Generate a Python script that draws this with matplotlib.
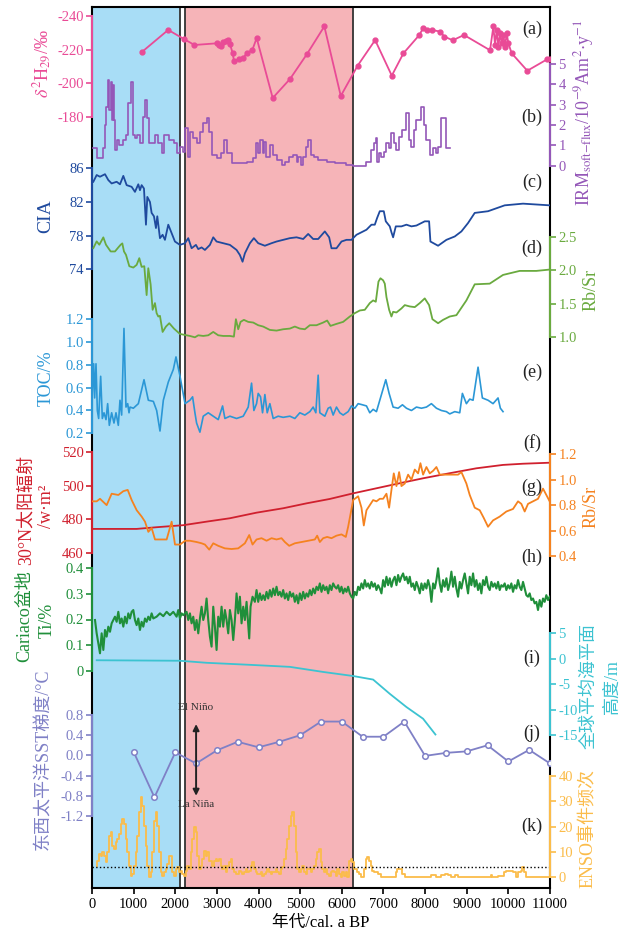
import matplotlib
matplotlib.use("Agg")
from matplotlib import pyplot as plt
from matplotlib.patches import Rectangle

plt.rcParams['font.family'] = ['Liberation Serif', 'Noto Sans CJK SC']
plt.rcParams['mathtext.fontset'] = 'stix'
plt.rcParams['axes.unicode_minus'] = False

# (a) leaf wax dD
dh_age = [1200, 1830, 2210, 2460, 3000, 3050, 3100, 3155, 3210, 3275, 3315, 3380, 3410, 3520, 3635,
          3730, 3850, 3955, 4340, 4755, 5170, 5580, 5975, 6380, 6800, 7200, 7480, 7855, 7960, 8055,
          8165, 8360, 8465, 8665, 8935, 9560, 9640, 9680, 9720, 9760, 9800, 9840, 9880, 9920, 9960,
          10000, 10080, 10455, 10935, 11000]
dh_val = [-218.6, -231.6, -226.2, -222.7, -223.7, -222.5, -222.1, -224.5, -225.1, -225.6, -223.1,
          -217.8, -213.3, -214.3, -215.2, -218.2, -219.7, -226.8, -191.4, -202.6, -217.6, -233.7,
          -192.6, -210.5, -225.6, -204.6, -217.8, -228.4, -232.9, -231.6, -231.6, -230.6, -227.6,
          -225.5, -228.6, -219.6, -233.7, -222.7, -231.6, -221.7, -229.6, -223.7, -228.6, -221.7,
          -229.6, -223.7, -217.8, -207.5, -214.3, -214.4]

# (b) IRM soft flux (step series)
irm_age = [32, 128, 256, 304, 336, 376, 416, 448, 472, 496, 528, 552, 608, 656, 736, 816, 872, 928,
           992, 1040, 1088, 1152, 1232, 1272, 1328, 1376, 1512, 1592, 1672, 1728, 1856, 1968, 2048,
           2112, 2176, 2232, 2296, 2352, 2432, 2528, 2592, 2672, 2752, 2816, 2872, 2992, 3088, 3168,
           3248, 3352, 3712, 3872, 3936, 3992, 4032, 4096, 4128, 4176, 4272, 4336, 4432, 4552, 4632,
           4736, 4832, 4912, 4952, 5008, 5072, 5136, 5192, 5248, 5328, 5432, 5648, 5832, 6112, 6272,
           6592, 6712, 6768, 6816, 6848, 6896, 6952, 7008, 7072, 7136, 7192, 7248, 7312, 7376, 7456,
           7536, 7616, 7672, 7728, 7792, 7912, 7968, 8016, 8112, 8192, 8272, 8312, 8392, 8512, 8608]
irm_val = [0.86, 0.36, 0.86, 2.0, 2.9, 4.21, 2.74, 4.13, 2.25, 3.97, 2.25, 0.77, 1.26, 1.02, 1.26,
           1.5, 3.07, 4.13, 1.5, 1.34, 1.5, 1.1, 2.41, 3.23, 2.33, 1.1, 1.5, 1.1, 0.61, 1.5, 1.26,
           1.1, 0.61, 0.94, 0.69, 1.84, 0.45, 1.68, 1.34, 1.1, 1.68, 2.08, 2.33, 1.68, 0.53, 0.36,
           0.61, 1.26, 0.61, 0.12, 0.2, 0.36, 1.1, 0.61, 1.26, 0.61, 1.18, 0.45, 1.02, 0.53, 0.28,
           0.04, 0.2, 0.45, 0.53, 0.2, 0.45, 0.04, 0.45, 0.94, 1.26, 0.53, 0.45, 0.28, 0.2, 0.12,
           0.04, 0.0, 0.2, 0.77, 1.1, 1.34, 0.2, 0.61, 0.45, 0.69, 1.1, 0.86, 1.59, 1.1, 0.77, 1.42,
           1.75, 2.57, 1.26, 0.94, 1.75, 2.25, 2.9, 2.0, 1.26, 0.53, 0.86, 0.61, 0.94, 2.33, 0.86,
           0.86]

# (c) CIA
cia_age = [32, 112, 192, 312, 392, 472, 592, 672, 752, 832, 952, 1032, 1112, 1152, 1192, 1248, 1296,
           1328, 1392, 1432, 1488, 1536, 1568, 1632, 1696, 1752, 1832, 1912, 1992, 2112, 2232, 2312,
           2392, 2496, 2552, 2632, 2712, 2832, 2912, 2992, 3152, 3312, 3472, 3552, 3616, 3672, 3792,
           3888, 3992, 4152, 4312, 4432, 4592, 4752, 4912, 5072, 5192, 5312, 5432, 5592, 5696, 5752,
           5872, 5992, 6112, 6232, 6352, 6472, 6592, 6712, 6792, 6848, 6912, 7008, 7056, 7152, 7192,
           7232, 7296, 7432, 7552, 7672, 7792, 7912, 7992, 8096, 8128, 8312, 8512, 8712, 8872, 9032,
           9192, 9512, 9912, 10352, 10672, 10992]
cia_val = [84.4, 85.2, 85.0, 85.3, 84.6, 84.2, 84.4, 84.1, 85.1, 84.0, 83.8, 83.2, 84.1, 83.4, 84.0,
           83.6, 79.3, 82.6, 82.0, 80.7, 80.3, 78.9, 80.3, 77.7, 78.1, 77.5, 79.3, 78.3, 77.3, 76.9,
           77.1, 77.7, 76.5, 76.9, 76.4, 76.6, 76.3, 76.9, 77.8, 77.3, 77.1, 76.9, 76.3, 75.7, 74.9,
           75.9, 77.1, 77.7, 77.1, 76.8, 77.1, 77.3, 77.5, 77.7, 77.8, 77.6, 78.2, 77.6, 77.6, 78.5,
           77.8, 76.5, 76.5, 77.3, 77.5, 77.5, 78.1, 78.4, 78.7, 79.3, 79.3, 80.1, 80.9, 80.9, 79.7,
           79.1, 78.4, 77.8, 79.1, 79.1, 79.3, 79.1, 79.2, 79.5, 79.7, 79.7, 77.3, 76.8, 77.5, 77.9,
           78.5, 79.5, 80.7, 80.9, 81.6, 81.8, 81.7, 81.6]

# (d) Rb/Sr
rb_age = [32, 112, 176, 272, 336, 448, 552, 632, 688, 728, 768, 816, 896, 992, 1072, 1136, 1192, 1256,
          1312, 1352, 1408, 1456, 1512, 1552, 1592, 1632, 1696, 1776, 1856, 1968, 2112, 2272, 2352,
          2472, 2552, 2672, 2792, 2912, 3032, 3152, 3312, 3408, 3456, 3512, 3568, 3648, 3752, 3872,
          3992, 4112, 4272, 4432, 4592, 4752, 4872, 4992, 5112, 5232, 5392, 5552, 5648, 5728, 5872,
          6032, 6192, 6312, 6432, 6552, 6672, 6752, 6816, 6880, 6928, 6992, 7032, 7072, 7136, 7192,
          7232, 7312, 7432, 7512, 7632, 7752, 7872, 7992, 8096, 8176, 8312, 8432, 8592, 8752, 8992,
          9192, 9552, 9872, 10272, 10672, 10992]
rb_val = [2.33, 2.43, 2.38, 2.49, 2.38, 2.28, 2.28, 2.34, 2.38, 2.40, 2.28, 2.23, 2.06, 2.04, 2.08,
          2.18, 2.05, 2.06, 1.63, 2.03, 1.79, 1.41, 1.51, 1.36, 1.31, 1.32, 1.08, 1.16, 1.21, 1.13,
          1.05, 1.03, 1.02, 1.00, 1.03, 1.02, 1.03, 1.08, 1.03, 1.02, 1.02, 1.01, 1.27, 1.12, 1.23,
          1.26, 1.23, 1.22, 1.18, 1.16, 1.11, 1.10, 1.12, 1.13, 1.16, 1.13, 1.12, 1.18, 1.18, 1.22,
          1.25, 1.17, 1.20, 1.23, 1.31, 1.36, 1.40, 1.41, 1.51, 1.55, 1.53, 1.83, 1.88, 1.85, 1.80,
          1.60, 1.41, 1.31, 1.38, 1.37, 1.43, 1.48, 1.46, 1.45, 1.51, 1.58, 1.48, 1.27, 1.21, 1.26,
          1.31, 1.33, 1.55, 1.79, 1.80, 1.93, 1.99, 1.99, 2.01]

# (e) TOC
toc_age = [0, 40, 64, 96, 128, 160, 208, 248, 288, 336, 376, 416, 472, 528, 576, 632, 672, 712, 768,
           816, 857, 889, 913, 993, 1113, 1249, 1353, 1473, 1553, 1633, 1713, 1833, 1953, 2017, 2114,
           2234, 2352, 2416, 2472, 2512, 2592, 2672, 2792, 2912, 3032, 3136, 3192, 3312, 3472, 3632,
           3752, 3832, 3888, 3952, 3992, 4048, 4096, 4152, 4208, 4272, 4352, 4472, 4592, 4752, 4872,
           4992, 5112, 5232, 5312, 5376, 5432, 5472, 5592, 5672, 5728, 5792, 5872, 5952, 6032, 6152,
           6232, 6312, 6392, 6496, 6592, 6672, 6752, 6832, 6912, 7056, 7136, 7232, 7352, 7456, 7552,
           7672, 7792, 7912, 8032, 8152, 8272, 8392, 8512, 8592, 8712, 8832, 8896, 8992, 9072, 9152,
           9272, 9376, 9512, 9632, 9752, 9808, 9872]
toc_val = [0.49, 0.81, 0.51, 0.81, 0.40, 0.33, 0.70, 0.33, 0.38, 0.32, 0.46, 0.27, 0.38, 0.29, 0.38,
           0.27, 0.49, 0.36, 1.12, 0.43, 0.46, 0.38, 0.43, 0.42, 0.46, 0.67, 0.49, 0.48, 0.40, 0.22,
           0.49, 0.65, 0.76, 0.87, 0.70, 0.46, 0.49, 0.52, 0.38, 0.29, 0.21, 0.35, 0.38, 0.35, 0.32,
           0.44, 0.33, 0.35, 0.33, 0.35, 0.43, 0.64, 0.40, 0.46, 0.55, 0.52, 0.38, 0.54, 0.38, 0.46,
           0.33, 0.35, 0.34, 0.35, 0.33, 0.38, 0.36, 0.39, 0.43, 0.38, 0.71, 0.38, 0.35, 0.42, 0.43,
           0.36, 0.43, 0.38, 0.36, 0.39, 0.44, 0.42, 0.46, 0.45, 0.44, 0.38, 0.41, 0.39, 0.49, 0.67,
           0.55, 0.43, 0.42, 0.45, 0.42, 0.40, 0.43, 0.42, 0.43, 0.46, 0.42, 0.40, 0.39, 0.37, 0.39,
           0.38, 0.55, 0.46, 0.50, 0.49, 0.78, 0.51, 0.49, 0.46, 0.51, 0.42, 0.39]

# (f) 30N insolation
ins_age = [0, 1072, 1552, 2192, 2752, 3312, 3952, 4592, 5152, 5712, 6272, 6832, 7392, 7952, 8592,
           9232, 9872, 10352, 11000]
ins_val = [474.4, 474.4, 475.4, 476.6, 478.7, 480.7, 484.0, 486.6, 489.5, 492.1, 495.4, 498.4, 501.4,
           504.3, 507.3, 510.2, 512.2, 512.9, 513.5]

# (g) Rb/Sr (second record)
rb2_age = [0, 112, 192, 352, 472, 633, 753, 857, 953, 1073, 1193, 1273, 1353, 1433, 1513, 1633, 1793,
           1913, 1993, 2114, 2234, 2352, 2512, 2632, 2712, 2816, 2912, 3032, 3192, 3352, 3512, 3672,
           3776, 3856, 3952, 4072, 4192, 4312, 4432, 4552, 4632, 4736, 4872, 5032, 5192, 5352, 5408,
           5472, 5552, 5648, 5752, 5872, 5992, 6096, 6152, 6272, 6392, 6472, 6528, 6592, 6672, 6752,
           6832, 6912, 6992, 7072, 7136, 7192, 7248, 7312, 7376, 7432, 7512, 7592, 7672, 7752, 7832,
           7888, 7952, 8032, 8112, 8192, 8272, 8352, 8448, 8552, 8672, 8792, 8872, 8992, 9072, 9192,
           9312, 9408, 9512, 9632, 9792, 9952, 10112, 10232, 10312, 10392, 10472, 10592, 10712, 10832,
           10912, 10992]
rb2_val = [0.83, 0.83, 0.85, 0.80, 0.89, 0.88, 0.91, 0.92, 0.84, 0.76, 0.71, 0.67, 0.59, 0.62, 0.53,
           0.53, 0.53, 0.67, 0.49, 0.49, 0.52, 0.52, 0.51, 0.50, 0.49, 0.45, 0.50, 0.48, 0.46, 0.455,
           0.46, 0.50, 0.565, 0.49, 0.53, 0.54, 0.52, 0.54, 0.53, 0.54, 0.51, 0.48, 0.50, 0.51, 0.52,
           0.53, 0.56, 0.51, 0.54, 0.55, 0.54, 0.56, 0.57, 0.55, 0.63, 0.84, 0.87, 0.78, 0.64, 0.76,
           0.80, 0.84, 0.83, 0.85, 0.85, 0.89, 0.78, 0.92, 1.05, 0.95, 1.06, 0.95, 0.97, 1.04, 1.00,
           1.08, 1.05, 1.13, 1.04, 1.10, 1.05, 1.07, 1.10, 1.04, 1.04, 1.04, 1.04, 1.04, 1.06, 0.97,
           0.88, 0.78, 0.76, 0.70, 0.63, 0.68, 0.71, 0.75, 0.77, 0.83, 0.81, 0.75, 0.81, 0.83, 0.85,
           0.93, 0.88, 0.83]

# (h) Cariaco Ti
ti_age = [72, 112, 152, 192, 232, 272, 312, 352, 392, 432, 472, 512, 552, 592, 632, 672, 712, 752, 792,
          832, 872, 912, 952, 992, 1032, 1072, 1112, 1152, 1192, 1232, 1272, 1312, 1352, 1392, 1432,
          1472, 1552, 1632, 1712, 1792, 1872, 1952, 2032, 2072, 2112, 2152, 2192, 2272, 2312, 2352,
          2392, 2432, 2472, 2512, 2552, 2592, 2632, 2672, 2712, 2752, 2792, 2832, 2872, 2912, 2952,
          2992, 3032, 3072, 3112, 3152, 3192, 3232, 3272, 3312, 3352, 3392, 3432, 3472, 3512, 3552,
          3592, 3632, 3672, 3712, 3776, 3808, 3856, 3912, 3952, 3992, 4032, 4072, 4112, 4152, 4192,
          4232, 4272, 4312, 4352, 4392, 4432, 4472, 4512, 4552, 4592, 4632, 4672, 4712, 4752, 4792,
          4832, 4872, 4912, 4952, 4992, 5032, 5072, 5112, 5152, 5192, 5232, 5272, 5312, 5352, 5392,
          5432, 5472, 5512, 5552, 5592, 5632, 5672, 5712, 5752, 5792, 5832, 5872, 5912, 5952, 5992,
          6032, 6072, 6112, 6152, 6192, 6232, 6272, 6312, 6352, 6392, 6432, 6472, 6512, 6552, 6592,
          6632, 6672, 6712, 6752, 6792, 6832, 6872, 6912, 6952, 6992, 7032, 7072, 7112, 7152, 7192,
          7232, 7272, 7312, 7352, 7392, 7432, 7472, 7512, 7552, 7592, 7632, 7672, 7712, 7752, 7792,
          7832, 7872, 7912, 7952, 7992, 8032, 8072, 8112, 8152, 8192, 8232, 8272, 8312, 8352, 8392,
          8432, 8472, 8512, 8552, 8592, 8632, 8672, 8712, 8752, 8792, 8832, 8872, 8912, 8952, 8992,
          9032, 9072, 9112, 9152, 9192, 9232, 9272, 9312, 9352, 9392, 9432, 9472, 9512, 9552, 9592,
          9632, 9672, 9712, 9752, 9792, 9832, 9872, 9912, 9952, 9992, 10032, 10072, 10112, 10152,
          10192, 10232, 10272, 10312, 10352, 10392, 10432, 10472, 10512, 10552, 10592, 10632, 10672,
          10712, 10752, 10792, 10832, 10872, 10912, 10952, 10992]
ti_val = [0.198, 0.146, 0.107, 0.068, 0.146, 0.081, 0.159, 0.133, 0.172, 0.152, 0.185, 0.198, 0.211,
          0.191, 0.230, 0.185, 0.204, 0.172, 0.211, 0.185, 0.224, 0.204, 0.230, 0.237, 0.198, 0.178,
          0.204, 0.159, 0.191, 0.172, 0.204, 0.191, 0.211, 0.198, 0.224, 0.204, 0.211, 0.224, 0.213,
          0.230, 0.217, 0.230, 0.211, 0.237, 0.204, 0.224, 0.217, 0.230, 0.198, 0.224, 0.185, 0.211,
          0.159, 0.198, 0.146, 0.204, 0.250, 0.198, 0.224, 0.282, 0.198, 0.133, 0.094, 0.250, 0.172,
          0.081, 0.211, 0.172, 0.250, 0.172, 0.237, 0.198, 0.146, 0.237, 0.198, 0.120, 0.198, 0.302,
          0.224, 0.289, 0.185, 0.250, 0.198, 0.269, 0.126, 0.250, 0.289, 0.269, 0.315, 0.269, 0.302,
          0.276, 0.295, 0.276, 0.308, 0.282, 0.315, 0.289, 0.321, 0.295, 0.328, 0.295, 0.308, 0.289,
          0.315, 0.282, 0.302, 0.276, 0.308, 0.289, 0.302, 0.269, 0.295, 0.263, 0.302, 0.276, 0.308,
          0.282, 0.302, 0.289, 0.315, 0.295, 0.321, 0.302, 0.328, 0.315, 0.341, 0.308, 0.334, 0.315,
          0.328, 0.302, 0.334, 0.315, 0.341, 0.328, 0.321, 0.334, 0.308, 0.328, 0.302, 0.321, 0.308,
          0.328, 0.302, 0.289, 0.282, 0.308, 0.295, 0.328, 0.315, 0.341, 0.321, 0.354, 0.328, 0.341,
          0.321, 0.347, 0.328, 0.341, 0.315, 0.334, 0.321, 0.302, 0.354, 0.328, 0.367, 0.334, 0.361,
          0.328, 0.354, 0.367, 0.334, 0.374, 0.347, 0.367, 0.380, 0.354, 0.367, 0.341, 0.367, 0.328,
          0.341, 0.315, 0.347, 0.328, 0.302, 0.341, 0.315, 0.341, 0.321, 0.354, 0.328, 0.269, 0.341,
          0.321, 0.354, 0.400, 0.341, 0.308, 0.354, 0.328, 0.361, 0.315, 0.341, 0.387, 0.328, 0.367,
          0.321, 0.289, 0.347, 0.321, 0.354, 0.380, 0.341, 0.302, 0.367, 0.334, 0.380, 0.328, 0.354,
          0.315, 0.341, 0.302, 0.354, 0.334, 0.367, 0.328, 0.315, 0.347, 0.328, 0.341, 0.321, 0.347,
          0.315, 0.334, 0.328, 0.341, 0.315, 0.334, 0.321, 0.341, 0.308, 0.334, 0.321, 0.354, 0.328,
          0.315, 0.347, 0.321, 0.295, 0.289, 0.302, 0.276, 0.282, 0.263, 0.269, 0.237, 0.276, 0.250,
          0.282, 0.269, 0.295, 0.276, 0.289]

# (i) global mean sea level
sl_age = [113, 2112, 2752, 3792, 4752, 5552, 6272, 6752, 7152, 7552, 7952, 8248]
sl_val = [-0.3, -0.4, -0.8, -1.2, -1.6, -2.6, -3.4, -4.1, -6.9, -9.5, -11.8, -14.9]

# (j) east-west Pacific SST gradient
sst_age = [1000, 1500, 2000, 2500, 3000, 3500, 4000, 4500, 5000, 5500, 6000, 6500, 7000, 7500, 8000,
           8500, 9000, 9500, 10000, 10500, 11000]
sst_val = [0.07, -0.83, 0.06, -0.16, 0.10, 0.27, 0.16, 0.27, 0.40, 0.67, 0.67, 0.37, 0.37, 0.67,
           -0.01, 0.05, 0.08, 0.20, -0.12, 0.11, -0.16]

# (k) ENSO event frequency
enso_age = [112, 152, 192, 232, 272, 312, 352, 392, 432, 472, 512, 552, 592, 632, 672, 712, 752, 792,
            832, 872, 912, 952, 992, 1032, 1072, 1112, 1152, 1192, 1232, 1272, 1312, 1352, 1392, 1432,
            1472, 1512, 1552, 1592, 1632, 1672, 1712, 1752, 1792, 1832, 1872, 1912, 1952, 1992, 2032,
            2072, 2112, 2152, 2192, 2232, 2272, 2312, 2352, 2392, 2432, 2472, 2512, 2552, 2592, 2632,
            2672, 2712, 2752, 2792, 2832, 2872, 2912, 2952, 2992, 3032, 3072, 3112, 3152, 3192, 3232,
            3272, 3312, 3352, 3392, 3432, 3472, 3512, 3552, 3592, 3632, 3672, 3712, 3752, 3792, 3832,
            3872, 3912, 3952, 3992, 4032, 4072, 4112, 4152, 4192, 4232, 4272, 4312, 4352, 4392, 4432,
            4472, 4512, 4552, 4592, 4632, 4672, 4712, 4752, 4792, 4832, 4872, 4912, 4952, 4992, 5032,
            5072, 5112, 5152, 5192, 5232, 5272, 5312, 5352, 5392, 5432, 5472, 5512, 5552, 5592, 5632,
            5672, 5712, 5752, 5792, 5832, 5872, 5912, 5952, 5992, 6032, 6072, 6112, 6152, 6192, 6232,
            6272, 6312, 6352, 6392, 6432, 6472, 6512, 6552, 6592, 6632, 6672, 6712, 6752, 6792, 6832,
            6912, 6952, 7152, 7272, 7312, 7352, 7432, 7472, 7552, 7632, 8112, 8152, 8232, 8312, 8432,
            8512, 8592, 8672, 8752, 8832, 9552, 9592, 9632, 9872, 9912, 9992, 10072, 10152, 10192,
            10272, 10312, 10352, 10392, 10432, 10992]
enso_val = [4.6, 6.6, 9.2, 8.5, 9.8, 8.5, 5.9, 9.8, 16.4, 17.7, 12.5, 11.2, 13.8, 15.1, 17.1, 21.0,
            23.0, 21.0, 15.1, 9.8, 4.6, 0.7, 1.3, 4.6, 9.8, 16.4, 25.6, 31.5, 28.2, 20.3, 12.5, 4.6,
            0.0, 2.0, 9.8, 22.3, 25.6, 20.3, 9.8, 2.0, 0.7, 2.0, 3.3, 5.2, 8.5, 8.5, 2.0, 0.7, 3.3,
            3.9, 2.0, 2.6, 1.3, 0.7, 2.6, 4.6, 3.3, 9.8, 15.1, 19.7, 17.7, 8.5, 3.3, 4.6, 7.2, 10.5,
            8.5, 9.8, 6.6, 6.6, 4.6, 6.6, 7.2, 6.6, 7.2, 4.6, 3.3, 4.6, 2.0, 4.6, 5.9, 7.2, 3.3, 2.0,
            1.3, 1.3, 2.6, 2.0, 1.3, 2.0, 3.3, 2.0, 2.6, 4.6, 5.9, 3.3, 2.0, 1.3, 1.3, 2.0, 0.7, 1.3,
            2.0, 3.3, 2.0, 1.3, 2.0, 2.0, 3.3, 2.0, 1.3, 3.3, 3.9, 7.2, 11.2, 15.1, 20.3, 24.3, 25.6,
            20.3, 9.8, 3.3, 2.0, 3.3, 4.6, 2.0, 1.3, 3.3, 3.3, 2.0, 3.3, 4.6, 7.2, 9.8, 11.2, 5.9,
            3.3, 2.0, 3.3, 1.3, 0.7, 2.0, 2.6, 2.0, 0.7, 3.3, 1.3, 0.0, 2.0, 0.7, 2.0, 0.0, 6.6, 7.2,
            5.9, 3.3, 3.3, 2.0, 1.3, 0.0, 0.0, 3.3, 7.2, 7.9, 6.6, 4.6, 2.6, 2.0, 2.0, 1.3, 0.0, 0.0,
            0.0, 2.0, 3.3, 3.3, 1.3, 0.0, 0.0, 0.0, 0.8, 0.8, 0.0, 0.8, 1.3, 0.8, 0.0, 0.8, 0.0, 0.0,
            0.8, 0.0, 0.7, 2.0, 2.6, 2.6, 2.0, 0.0, 2.0, 2.6, 3.9, 2.0, 0.0, 0.0]
enso_threshold = 4.2

x_ticks = list(range(0, 11001, 1000))
blue_span = (0, 2120)
pink_span = (2245, 6260)

# figure geometry in pixels (623 x 934)
W, H = 623, 934
TOP, BOT, LEFT, RIGHT = 7, 888, 92, 550

fig = plt.figure(figsize=(W / 100, H / 100), dpi=100)
rect = [LEFT / W, 1 - BOT / H, (RIGHT - LEFT) / W, (BOT - TOP) / H]

ax0 = fig.add_axes(rect)
ax0.set_xlim(0, 11000)
ax0.set_ylim(0, 1)
ax0.set_yticks([])
ax0.set_xticks(x_ticks)
ax0.tick_params(axis='x', direction='out', length=4, width=1.2, labelsize=10.5, pad=3)
for sp in ax0.spines.values():
    sp.set_linewidth(1.5)
    sp.set_color('black')
ax0.add_patch(Rectangle((blue_span[0], 0), blue_span[1] - blue_span[0], 1,
                        facecolor='#a8ddf6', edgecolor='#333333', lw=1.3))
ax0.add_patch(Rectangle((pink_span[0], 0), pink_span[1] - pink_span[0], 1,
                        facecolor='#f6b4b8', edgecolor='#333333', lw=1.3))
ax0.set_xlabel('年代/cal. a BP', fontsize=12, labelpad=3)


def band_axes(side, v1, p1, v2, p2, color, ticks, labels):
    """twin axes on the frame, scaled so value v1 sits at pixel row p1 and v2 at p2"""
    ax = fig.add_axes(rect, facecolor='none')
    s = (v2 - v1) / (p2 - p1)
    ax.set_ylim(v1 + s * (BOT - p1), v1 + s * (TOP - p1))
    ax.set_xlim(0, 11000)
    ax.xaxis.set_visible(False)
    for sp in ax.spines.values():
        sp.set_visible(False)
    ax.spines[side].set_visible(True)
    ax.spines[side].set_color(color)
    ax.spines[side].set_linewidth(1.5)
    ax.spines[side].set_bounds(min(ticks), max(ticks))
    ax.yaxis.set_ticks_position(side)
    ax.set_yticks(ticks)
    ax.set_yticklabels(labels)
    ax.tick_params(axis='y', colors=color, direction='out', length=4, width=1.2,
                   labelsize=10.5, pad=2)
    return ax


c_dh, c_irm, c_cia, c_rb = '#e94b96', '#9457b8', '#1f4a9e', '#6aaa3f'
c_toc, c_ins, c_rb2, c_ti = '#2b97d6', '#d0202e', '#f5821f', '#1f8f3a'
c_sl, c_sst, c_enso = '#3cc3d1', '#7f80c6', '#fbbc4a'

ax_a = band_axes('left', -240, 15.7, -180, 117.3, c_dh, [-240, -220, -200, -180],
                 ['-240', '-220', '-200', '-180'])
ax_a.plot(dh_age, dh_val, color=c_dh, lw=1.3, marker='o', ms=3.5)

ax_b = band_axes('right', 0, 165.7, 5, 64, c_irm, [0, 1, 2, 3, 4, 5], ['0', '1', '2', '3', '4', '5'])
ax_b.plot(irm_age, irm_val, color=c_irm, lw=1.2, drawstyle='steps-post')

ax_c = band_axes('left', 86, 168.3, 74, 269.3, c_cia, [74, 78, 82, 86], ['74', '78', '82', '86'])
ax_c.plot(cia_age, cia_val, color=c_cia, lw=1.3)

ax_d = band_axes('right', 2.5, 236.7, 1.0, 337.3, c_rb, [1.0, 1.5, 2.0, 2.5],
                 ['1.0', '1.5', '2.0', '2.5'])
ax_d.plot(rb_age, rb_val, color=c_rb, lw=1.3)

ax_e = band_axes('left', 1.2, 319.3, 0.2, 433.3, c_toc, [0.2, 0.4, 0.6, 0.8, 1.0, 1.2],
                 ['0.2', '0.4', '0.6', '0.8', '1.0', '1.2'])
ax_e.plot(toc_age, toc_val, color=c_toc, lw=1.2)

ax_f = band_axes('left', 520, 451.7, 460, 553.3, c_ins, [460, 480, 500, 520],
                 ['460', '480', '500', '520'])
ax_f.plot(ins_age, ins_val, color=c_ins, lw=1.3)

ax_g = band_axes('right', 1.2, 454.3, 0.4, 556, c_rb2, [0.4, 0.6, 0.8, 1.0, 1.2],
                 ['0.4', '0.6', '0.8', '1.0', '1.2'])
ax_g.plot(rb2_age, rb2_val, color=c_rb2, lw=1.3)

ax_h = band_axes('left', 0.4, 568.3, 0.0, 670.7, c_ti, [0, 0.1, 0.2, 0.3, 0.4],
                 ['0', '0.1', '0.2', '0.3', '0.4'])
ax_h.plot(ti_age, ti_val, color=c_ti, lw=1.5)

ax_i = band_axes('right', 5, 633.3, -15, 735, c_sl, [-15, -10, -5, 0, 5],
                 ['-15', '-10', '-5', '0', '5'])
ax_i.plot(sl_age, sl_val, color=c_sl, lw=1.3)

ax_j = band_axes('left', 0.8, 715, -1.2, 816, c_sst, [-1.2, -0.8, -0.4, 0.0, 0.4, 0.8],
                 ['-1.2', '-0.8', '-0.4', '0.0', '0.4', '0.8'])
ax_j.plot(sst_age, sst_val, color=c_sst, lw=1.3, marker='o', ms=4, mfc='white', mew=1.1)
ax_j.annotate('', xy=(2500, 0.62), xytext=(2500, -0.80),
              arrowprops=dict(arrowstyle='<|-|>', color='#222222', lw=1.4, mutation_scale=9,
                              shrinkA=0, shrinkB=0))
ax_j.text(2480, 0.94, 'El Niño', ha='center', va='center', fontsize=8, color='#333333')
ax_j.text(2500, -0.98, 'La Niña', ha='center', va='center', fontsize=8, color='#333333')

ax_k = band_axes('right', 0, 877.3, 40, 775.7, c_enso, [0, 10, 20, 30, 40],
                 ['0', '10', '20', '30', '40'])
ax_k.plot(enso_age, enso_val, color=c_enso, lw=1.3, drawstyle='steps-mid')
ax_k.axhline(enso_threshold, color='black', ls=':', lw=1.0)


def ftext(x, y, s, color, size=13, rot=90):
    fig.text(x / W, 1 - y / H, s, color=color, fontsize=size, rotation=rot,
             ha='center', va='center')


# axis titles
ftext(42, 64, r'$\delta^2$H$_{29}$/‰', c_dh)
ftext(584, 113, r'IRM$_{\mathrm{soft{-}flux}}$/10$^{-9}$Am$^{2}$$\cdot$y$^{-1}$', c_irm)
ftext(46, 216, 'CIA', c_cia, 14)
ftext(591, 290, 'Rb/Sr', c_rb)
ftext(46, 378, 'TOC/%', c_toc)
ftext(26, 510, '30°N太阳辐射', c_ins)
ftext(46, 506, '/w·m²', c_ins)
ftext(591, 507, 'Rb/Sr', c_rb2)
ftext(25, 616, 'Cariaco盆地', c_ti)
ftext(47, 620, 'Ti/%', c_ti)
ftext(589, 686, '全球平均海平面', c_sl)
ftext(612, 686, '高度/m', c_sl)
ftext(44, 759, '东西太平洋SST梯度/°C', c_sst)
ftext(588, 828, 'ENSO事件频次', c_enso)

# panel letters
panel_tags = ['(a)', '(b)', '(c)', '(d)', '(e)', '(f)', '(g)', '(h)', '(i)', '(j)', '(k)']
panel_rows = [29, 117, 182, 248, 372, 443, 487, 557, 658, 733, 826]
for tag, row in zip(panel_tags, panel_rows):
    ftext(532, row, tag, '#222222', 13, 0)

fig.savefig('out.png', dpi=100)
